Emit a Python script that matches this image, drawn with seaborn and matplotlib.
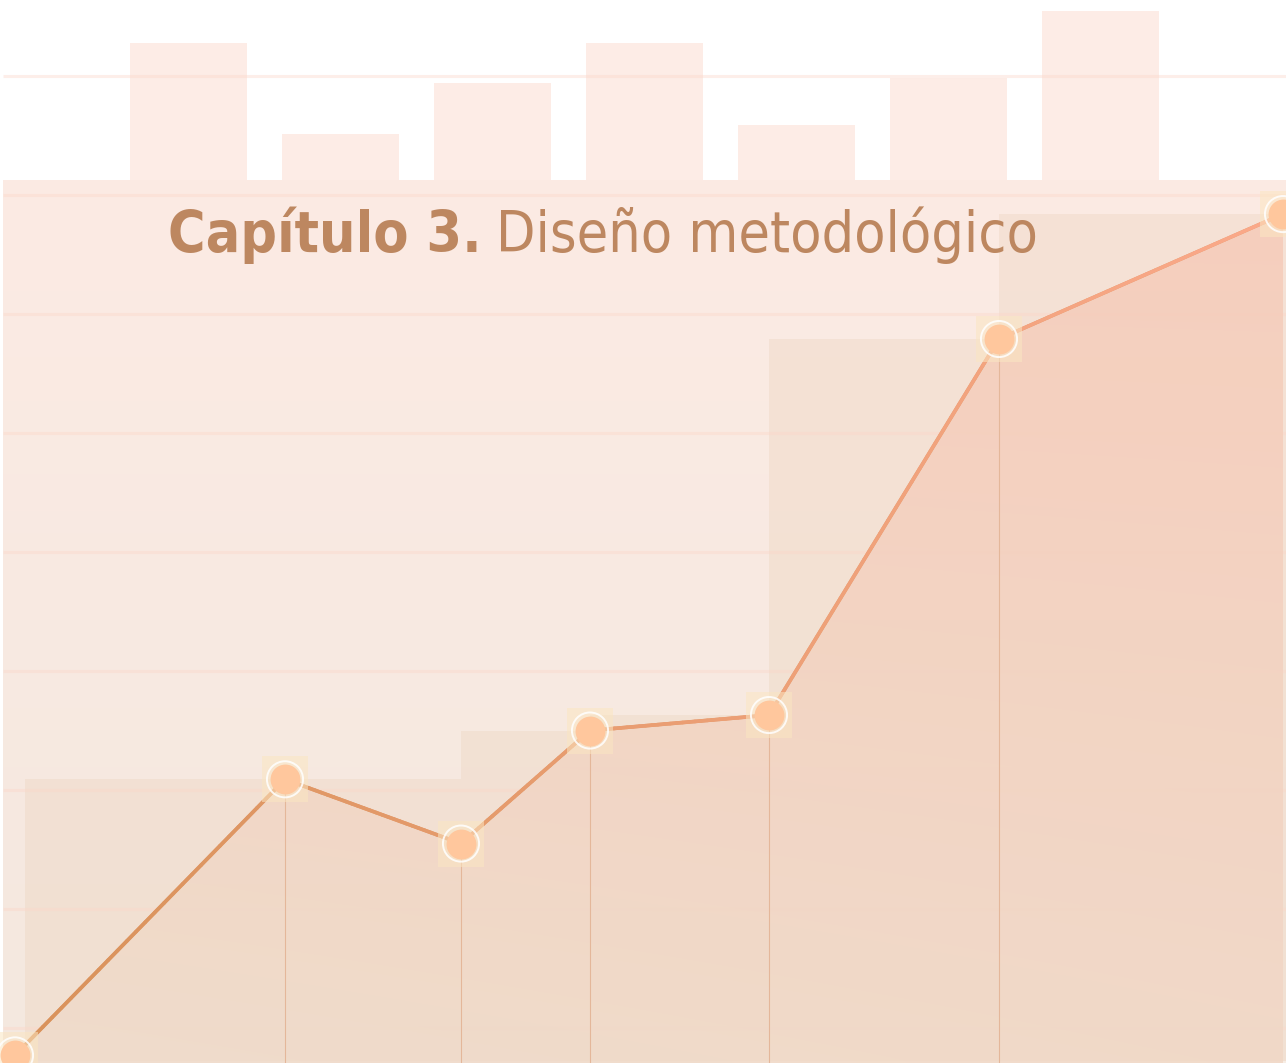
import numpy as np
import pandas as pd
import matplotlib
matplotlib.use("Agg")
import matplotlib.pyplot as plt
import seaborn as sns
from matplotlib.collections import LineCollection
from matplotlib.colors import to_rgb
from matplotlib import font_manager
from matplotlib.font_manager import FontProperties

# ---------------- data ----------------
line_x = [0.15, 2.85, 4.61, 5.90, 7.69, 9.99, 12.83]
line_y = [-2.3, 20.9, 15.5, 25.0, 26.3, 57.9, 68.4]

step_edges = [0.25, 4.61, 5.90, 7.69, 9.99, 12.86]
step_heights = [20.9, 25.0, 26.3, 57.9, 68.4]

top_bar_x = [1.885, 3.405, 4.925, 6.445, 7.965, 9.485, 11.005]
top_bar_top = [82.8, 75.1, 79.4, 82.8, 75.9, 79.8, 85.5]
top_bar_base = 71.26

grid_levels = [0, 10, 20, 30, 40, 50, 60, 70, 80]

title_bold = "Capítulo 3."
title_regular = "Diseño metodológico"

# ---------------- style ----------------
sns.set_theme(style="white")
plt.rcParams["font.family"] = ["DejaVu Sans"]


def find_condensed(bold):
    fl = font_manager.fontManager.ttflist
    pref = ["Liberation Sans Narrow", "DejaVu Sans Condensed", "Roboto Condensed",
            "Open Sans Condensed", "Noto Sans Condensed", "Noto Sans Display Condensed"]
    good = []
    for f in fl:
        key = (f.name + " " + f.fname).lower()
        st = str(f.stretch).lower()
        cond = ("condensed" in key or "narrow" in key or st in ("condensed", "semi-condensed",
                "extra-condensed", "ultra-condensed"))
        if not cond or "italic" in key or "oblique" in str(f.style).lower() or f.style != "normal":
            continue
        w = f.weight if isinstance(f.weight, int) else (700 if "bold" in str(f.weight) else 400)
        isb = w >= 600 or "bold" in key.split("/")[-1]
        if "semibold" in key or "extrabold" in key or "black" in key or "light" in key \
                or "thin" in key or "medium" in key:
            continue
        if isb != bold:
            continue
        rank = next((i for i, p in enumerate(pref) if p.lower() in key or
                     p.replace(" ", "").lower() in key), len(pref))
        if "sans" not in key and rank == len(pref):
            rank += 1
        good.append((rank, f.fname))
    good.sort()
    if good:
        return FontProperties(fname=good[0][1])
    return FontProperties(family="DejaVu Sans", weight="bold" if bold else "normal",
                          stretch="condensed")


fp_bold = find_condensed(True)
fp_reg = find_condensed(False)

W, H = 1286, 1063
fig = plt.figure(figsize=(W / 100, H / 100), dpi=100)
fig.patch.set_facecolor("white")
ax = fig.add_axes([0, 0, 1, 1])
ax.set_facecolor("white")
XMIN, XMAX = 0, 12.86
YMIN, YMAX = -2.94, 86.39
ax.set_xlim(XMIN, XMAX)
ax.set_ylim(YMIN, YMAX)
ax.axis("off")


def vgrad(c_top, c_bot, n=256):
    a = np.array(to_rgb(c_top))
    b = np.array(to_rgb(c_bot))
    t = np.linspace(0, 1, n)[:, None]
    return (a * (1 - t) + b * t)[:, None, :]


# lower background band
bg = vgrad("#fcebe4", "#f4e8df")
ax.imshow(bg, extent=[0.03, XMAX, YMIN + 0.17, top_bar_base], aspect="auto",
          zorder=1, interpolation="bicubic")

# top decorative bars
top_df = pd.DataFrame({"x": top_bar_x, "h": np.array(top_bar_top) - top_bar_base})
ax.bar(top_df["x"], top_df["h"], bottom=top_bar_base, width=1.17,
       color="#fdece6", zorder=1, linewidth=0)

# step bars
widths = np.diff(step_edges)
ax.bar(step_edges[:-1], np.array(step_heights) - YMIN, bottom=YMIN, width=widths,
       align="edge", color="#eed8c4", alpha=0.45, zorder=2, linewidth=0)

# grid lines
for g in grid_levels:
    ax.plot([0.03, XMAX], [g, g], color="#fcd6c8", alpha=0.4, lw=2.2, zorder=3,
            solid_capstyle="butt")

# area under line with gradient
fill = ax.fill_between(line_x, line_y, YMIN, facecolor="none", edgecolor="none", zorder=4)
ny, nx = 200, 300
yy = np.linspace(0, 1, ny)[:, None]
xx = np.linspace(0, 1, nx)[None, :]
c_pink = np.array(to_rgb("#f6cbb9"))
c_beige = np.array(to_rgb("#efdccb"))
s = np.clip(0.75 * yy + 0.25 * (1 - xx) * yy, 0, 1)
img = c_pink * (1 - s[..., None]) + c_beige * s[..., None]
im = ax.imshow(img, extent=[XMIN, XMAX, YMIN, 70], aspect="auto", zorder=4,
               interpolation="bicubic", alpha=0.85)
im.set_clip_path(fill.get_paths()[0], transform=ax.transData)

# vertical drop lines
for xv, yv in zip(line_x[1:-1], line_y[1:-1]):
    ax.plot([xv, xv], [YMIN, yv], color="#e4b79a", lw=0.8, zorder=5)

# line with horizontal colour gradient
df = pd.DataFrame({"x": line_x, "y": line_y})
sns.lineplot(data=df, x="x", y="y", ax=ax, color="#e39a6a", lw=2.6, zorder=6,
             sort=False, legend=False)
xs, ys = [], []
for i in range(len(line_x) - 1):
    t = np.linspace(0, 1, 30)
    xs.extend(line_x[i] + (line_x[i + 1] - line_x[i]) * t)
    ys.extend(line_y[i] + (line_y[i + 1] - line_y[i]) * t)
pts = np.column_stack([xs, ys])
segs = np.stack([pts[:-1], pts[1:]], axis=1)
c0 = np.array(to_rgb("#d8925a"))
c1 = np.array(to_rgb("#fba98a"))
tt = (np.array(xs[:-1]) - XMIN) / (XMAX - XMIN)
cols = c0 * (1 - tt[:, None]) + c1 * tt[:, None]
ax.add_collection(LineCollection(segs, colors=cols, linewidths=2.6, zorder=7,
                                 capstyle="round"))

# markers: pale square, white ring, peach dot
ax.scatter(line_x, line_y, marker="s", s=33 ** 2, color="#fbe6c2", alpha=0.55,
           zorder=8, linewidths=0)
ax.scatter(line_x, line_y, marker="o", s=26 ** 2, facecolor="none",
           edgecolor="white", alpha=0.85, linewidths=1.4, zorder=9)
ax.scatter(line_x, line_y, marker="o", s=21.5 ** 2, color="#ffc79d", zorder=10,
           linewidths=0)

# title (fit to reference span 168..1037 px, baseline 252 px)
TITLE_X0, TITLE_X1, BASE = 168, 1037, 252
GAP_FRAC = 20 / 869
fs = 56.0
r = fig.canvas.get_renderer()
for _ in range(3):
    a = fig.text(0, 0, title_bold, fontproperties=fp_bold, fontsize=fs)
    b = fig.text(0, 0, title_regular, fontproperties=fp_reg, fontsize=fs)
    wa = a.get_window_extent(r).width
    wb = b.get_window_extent(r).width
    a.remove(); b.remove()
    total = wa + wb + GAP_FRAC * 869 * fs / 56
    fs = min(56.0, fs * (TITLE_X1 - TITLE_X0) / total) if total > 0 else fs
t1 = fig.text(TITLE_X0 / W, 1 - BASE / H, title_bold, fontproperties=fp_bold,
              fontsize=fs, color="#bd8760", ha="left", va="baseline", zorder=20)
fig.canvas.draw()
bb = t1.get_window_extent()
fig.text((bb.x1 + 20 * fs / 56) / W, 1 - BASE / H, title_regular, fontproperties=fp_reg,
         fontsize=fs, color="#bd8760", ha="left", va="baseline", zorder=20)

fig.savefig("out.png", dpi=100, facecolor="white")
